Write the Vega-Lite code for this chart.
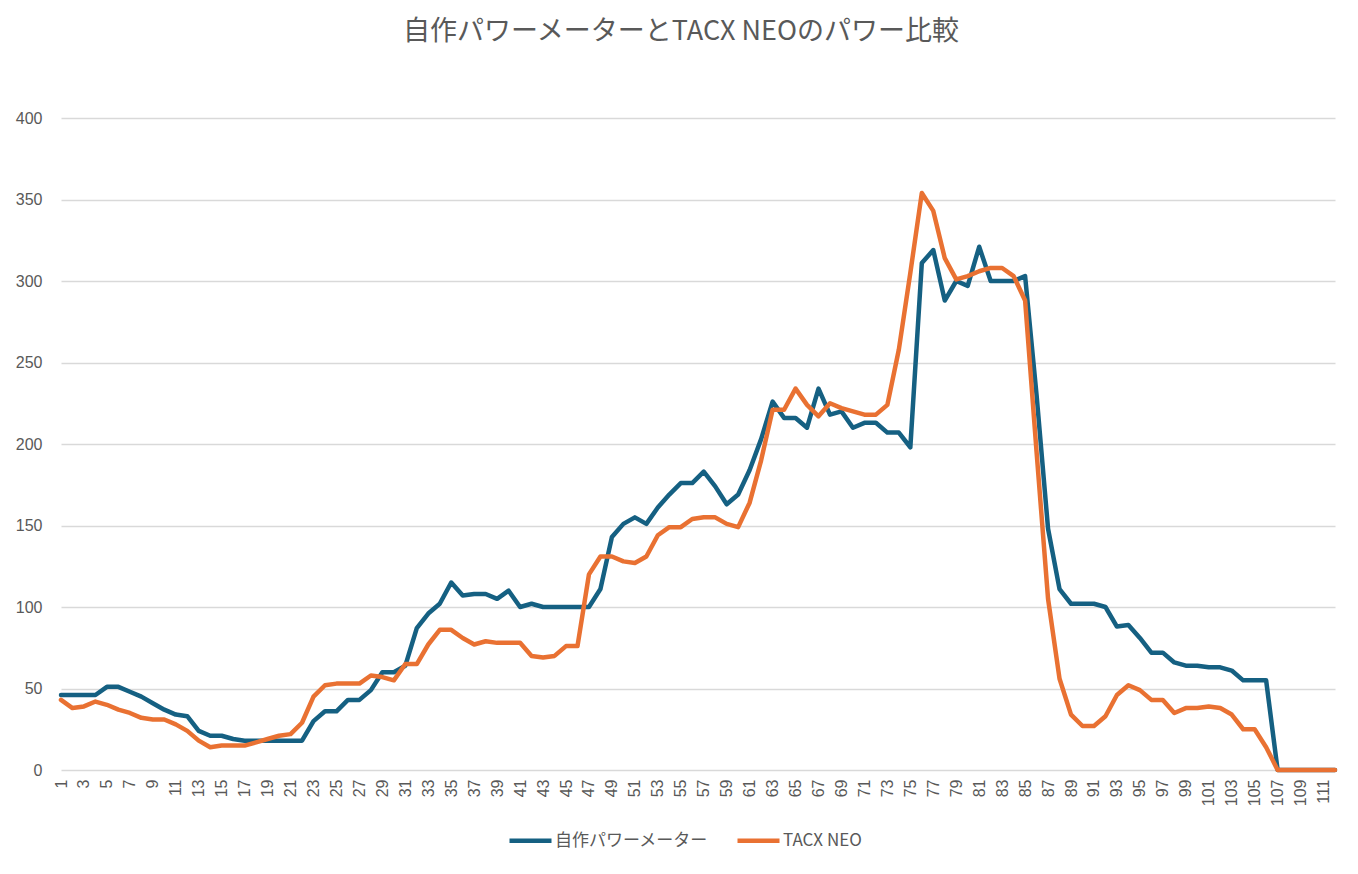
{
  "$schema": "https://vega.github.io/schema/vega-lite/v6.json",
  "width": 1274,
  "height": 652,
  "autosize": {"type": "none"},
  "padding": {"left": 61, "top": 118, "right": 23, "bottom": 104},
  "background": "white",
  "title": {
    "text": "自作パワーメーターとTACX NEOのパワー比較",
    "font": "Liberation Sans Narrow, Noto Sans CJK JP, sans-serif",
    "fontSize": 27,
    "fontWeight": "normal",
    "color": "#595959",
    "anchor": "middle",
    "offset": 64,
    "dx": -17
  },
  "data": {
    "values": [
      {"point": 1, "series": "自作パワーメーター", "power": 46},
      {"point": 2, "series": "自作パワーメーター", "power": 46},
      {"point": 3, "series": "自作パワーメーター", "power": 46},
      {"point": 4, "series": "自作パワーメーター", "power": 46},
      {"point": 5, "series": "自作パワーメーター", "power": 51},
      {"point": 6, "series": "自作パワーメーター", "power": 51},
      {"point": 7, "series": "自作パワーメーター", "power": 48},
      {"point": 8, "series": "自作パワーメーター", "power": 45},
      {"point": 9, "series": "自作パワーメーター", "power": 41},
      {"point": 10, "series": "自作パワーメーター", "power": 37},
      {"point": 11, "series": "自作パワーメーター", "power": 34},
      {"point": 12, "series": "自作パワーメーター", "power": 33},
      {"point": 13, "series": "自作パワーメーター", "power": 24},
      {"point": 14, "series": "自作パワーメーター", "power": 21},
      {"point": 15, "series": "自作パワーメーター", "power": 21},
      {"point": 16, "series": "自作パワーメーター", "power": 19},
      {"point": 17, "series": "自作パワーメーター", "power": 18},
      {"point": 18, "series": "自作パワーメーター", "power": 18},
      {"point": 19, "series": "自作パワーメーター", "power": 18},
      {"point": 20, "series": "自作パワーメーター", "power": 18},
      {"point": 21, "series": "自作パワーメーター", "power": 18},
      {"point": 22, "series": "自作パワーメーター", "power": 18},
      {"point": 23, "series": "自作パワーメーター", "power": 30},
      {"point": 24, "series": "自作パワーメーター", "power": 36},
      {"point": 25, "series": "自作パワーメーター", "power": 36},
      {"point": 26, "series": "自作パワーメーター", "power": 43},
      {"point": 27, "series": "自作パワーメーター", "power": 43},
      {"point": 28, "series": "自作パワーメーター", "power": 49},
      {"point": 29, "series": "自作パワーメーター", "power": 60},
      {"point": 30, "series": "自作パワーメーター", "power": 60},
      {"point": 31, "series": "自作パワーメーター", "power": 64},
      {"point": 32, "series": "自作パワーメーター", "power": 87},
      {"point": 33, "series": "自作パワーメーター", "power": 96},
      {"point": 34, "series": "自作パワーメーター", "power": 102},
      {"point": 35, "series": "自作パワーメーター", "power": 115},
      {"point": 36, "series": "自作パワーメーター", "power": 107},
      {"point": 37, "series": "自作パワーメーター", "power": 108},
      {"point": 38, "series": "自作パワーメーター", "power": 108},
      {"point": 39, "series": "自作パワーメーター", "power": 105},
      {"point": 40, "series": "自作パワーメーター", "power": 110},
      {"point": 41, "series": "自作パワーメーター", "power": 100},
      {"point": 42, "series": "自作パワーメーター", "power": 102},
      {"point": 43, "series": "自作パワーメーター", "power": 100},
      {"point": 44, "series": "自作パワーメーター", "power": 100},
      {"point": 45, "series": "自作パワーメーター", "power": 100},
      {"point": 46, "series": "自作パワーメーター", "power": 100},
      {"point": 47, "series": "自作パワーメーター", "power": 100},
      {"point": 48, "series": "自作パワーメーター", "power": 111},
      {"point": 49, "series": "自作パワーメーター", "power": 143},
      {"point": 50, "series": "自作パワーメーター", "power": 151},
      {"point": 51, "series": "自作パワーメーター", "power": 155},
      {"point": 52, "series": "自作パワーメーター", "power": 151},
      {"point": 53, "series": "自作パワーメーター", "power": 161},
      {"point": 54, "series": "自作パワーメーター", "power": 169},
      {"point": 55, "series": "自作パワーメーター", "power": 176},
      {"point": 56, "series": "自作パワーメーター", "power": 176},
      {"point": 57, "series": "自作パワーメーター", "power": 183},
      {"point": 58, "series": "自作パワーメーター", "power": 174},
      {"point": 59, "series": "自作パワーメーター", "power": 163},
      {"point": 60, "series": "自作パワーメーター", "power": 169},
      {"point": 61, "series": "自作パワーメーター", "power": 184},
      {"point": 62, "series": "自作パワーメーター", "power": 203},
      {"point": 63, "series": "自作パワーメーター", "power": 226},
      {"point": 64, "series": "自作パワーメーター", "power": 216},
      {"point": 65, "series": "自作パワーメーター", "power": 216},
      {"point": 66, "series": "自作パワーメーター", "power": 210},
      {"point": 67, "series": "自作パワーメーター", "power": 234},
      {"point": 68, "series": "自作パワーメーター", "power": 218},
      {"point": 69, "series": "自作パワーメーター", "power": 220},
      {"point": 70, "series": "自作パワーメーター", "power": 210},
      {"point": 71, "series": "自作パワーメーター", "power": 213},
      {"point": 72, "series": "自作パワーメーター", "power": 213},
      {"point": 73, "series": "自作パワーメーター", "power": 207},
      {"point": 74, "series": "自作パワーメーター", "power": 207},
      {"point": 75, "series": "自作パワーメーター", "power": 198},
      {"point": 76, "series": "自作パワーメーター", "power": 311},
      {"point": 77, "series": "自作パワーメーター", "power": 319},
      {"point": 78, "series": "自作パワーメーター", "power": 288},
      {"point": 79, "series": "自作パワーメーター", "power": 300},
      {"point": 80, "series": "自作パワーメーター", "power": 297},
      {"point": 81, "series": "自作パワーメーター", "power": 321},
      {"point": 82, "series": "自作パワーメーター", "power": 300},
      {"point": 83, "series": "自作パワーメーター", "power": 300},
      {"point": 84, "series": "自作パワーメーター", "power": 300},
      {"point": 85, "series": "自作パワーメーター", "power": 303},
      {"point": 86, "series": "自作パワーメーター", "power": 230},
      {"point": 87, "series": "自作パワーメーター", "power": 148},
      {"point": 88, "series": "自作パワーメーター", "power": 111},
      {"point": 89, "series": "自作パワーメーター", "power": 102},
      {"point": 90, "series": "自作パワーメーター", "power": 102},
      {"point": 91, "series": "自作パワーメーター", "power": 102},
      {"point": 92, "series": "自作パワーメーター", "power": 100},
      {"point": 93, "series": "自作パワーメーター", "power": 88},
      {"point": 94, "series": "自作パワーメーター", "power": 89},
      {"point": 95, "series": "自作パワーメーター", "power": 81},
      {"point": 96, "series": "自作パワーメーター", "power": 72},
      {"point": 97, "series": "自作パワーメーター", "power": 72},
      {"point": 98, "series": "自作パワーメーター", "power": 66},
      {"point": 99, "series": "自作パワーメーター", "power": 64},
      {"point": 100, "series": "自作パワーメーター", "power": 64},
      {"point": 101, "series": "自作パワーメーター", "power": 63},
      {"point": 102, "series": "自作パワーメーター", "power": 63},
      {"point": 103, "series": "自作パワーメーター", "power": 61},
      {"point": 104, "series": "自作パワーメーター", "power": 55},
      {"point": 105, "series": "自作パワーメーター", "power": 55},
      {"point": 106, "series": "自作パワーメーター", "power": 55},
      {"point": 107, "series": "自作パワーメーター", "power": 0},
      {"point": 108, "series": "自作パワーメーター", "power": 0},
      {"point": 109, "series": "自作パワーメーター", "power": 0},
      {"point": 110, "series": "自作パワーメーター", "power": 0},
      {"point": 111, "series": "自作パワーメーター", "power": 0},
      {"point": 112, "series": "自作パワーメーター", "power": 0},
      {"point": 1, "series": "TACX NEO", "power": 43},
      {"point": 2, "series": "TACX NEO", "power": 38},
      {"point": 3, "series": "TACX NEO", "power": 39},
      {"point": 4, "series": "TACX NEO", "power": 42},
      {"point": 5, "series": "TACX NEO", "power": 40},
      {"point": 6, "series": "TACX NEO", "power": 37},
      {"point": 7, "series": "TACX NEO", "power": 35},
      {"point": 8, "series": "TACX NEO", "power": 32},
      {"point": 9, "series": "TACX NEO", "power": 31},
      {"point": 10, "series": "TACX NEO", "power": 31},
      {"point": 11, "series": "TACX NEO", "power": 28},
      {"point": 12, "series": "TACX NEO", "power": 24},
      {"point": 13, "series": "TACX NEO", "power": 18},
      {"point": 14, "series": "TACX NEO", "power": 14},
      {"point": 15, "series": "TACX NEO", "power": 15},
      {"point": 16, "series": "TACX NEO", "power": 15},
      {"point": 17, "series": "TACX NEO", "power": 15},
      {"point": 18, "series": "TACX NEO", "power": 17},
      {"point": 19, "series": "TACX NEO", "power": 19},
      {"point": 20, "series": "TACX NEO", "power": 21},
      {"point": 21, "series": "TACX NEO", "power": 22},
      {"point": 22, "series": "TACX NEO", "power": 29},
      {"point": 23, "series": "TACX NEO", "power": 45},
      {"point": 24, "series": "TACX NEO", "power": 52},
      {"point": 25, "series": "TACX NEO", "power": 53},
      {"point": 26, "series": "TACX NEO", "power": 53},
      {"point": 27, "series": "TACX NEO", "power": 53},
      {"point": 28, "series": "TACX NEO", "power": 58},
      {"point": 29, "series": "TACX NEO", "power": 57},
      {"point": 30, "series": "TACX NEO", "power": 55},
      {"point": 31, "series": "TACX NEO", "power": 65},
      {"point": 32, "series": "TACX NEO", "power": 65},
      {"point": 33, "series": "TACX NEO", "power": 77},
      {"point": 34, "series": "TACX NEO", "power": 86},
      {"point": 35, "series": "TACX NEO", "power": 86},
      {"point": 36, "series": "TACX NEO", "power": 81},
      {"point": 37, "series": "TACX NEO", "power": 77},
      {"point": 38, "series": "TACX NEO", "power": 79},
      {"point": 39, "series": "TACX NEO", "power": 78},
      {"point": 40, "series": "TACX NEO", "power": 78},
      {"point": 41, "series": "TACX NEO", "power": 78},
      {"point": 42, "series": "TACX NEO", "power": 70},
      {"point": 43, "series": "TACX NEO", "power": 69},
      {"point": 44, "series": "TACX NEO", "power": 70},
      {"point": 45, "series": "TACX NEO", "power": 76},
      {"point": 46, "series": "TACX NEO", "power": 76},
      {"point": 47, "series": "TACX NEO", "power": 120},
      {"point": 48, "series": "TACX NEO", "power": 131},
      {"point": 49, "series": "TACX NEO", "power": 131},
      {"point": 50, "series": "TACX NEO", "power": 128},
      {"point": 51, "series": "TACX NEO", "power": 127},
      {"point": 52, "series": "TACX NEO", "power": 131},
      {"point": 53, "series": "TACX NEO", "power": 144},
      {"point": 54, "series": "TACX NEO", "power": 149},
      {"point": 55, "series": "TACX NEO", "power": 149},
      {"point": 56, "series": "TACX NEO", "power": 154},
      {"point": 57, "series": "TACX NEO", "power": 155},
      {"point": 58, "series": "TACX NEO", "power": 155},
      {"point": 59, "series": "TACX NEO", "power": 151},
      {"point": 60, "series": "TACX NEO", "power": 149},
      {"point": 61, "series": "TACX NEO", "power": 164},
      {"point": 62, "series": "TACX NEO", "power": 190},
      {"point": 63, "series": "TACX NEO", "power": 221},
      {"point": 64, "series": "TACX NEO", "power": 221},
      {"point": 65, "series": "TACX NEO", "power": 234},
      {"point": 66, "series": "TACX NEO", "power": 224},
      {"point": 67, "series": "TACX NEO", "power": 217},
      {"point": 68, "series": "TACX NEO", "power": 225},
      {"point": 69, "series": "TACX NEO", "power": 222},
      {"point": 70, "series": "TACX NEO", "power": 220},
      {"point": 71, "series": "TACX NEO", "power": 218},
      {"point": 72, "series": "TACX NEO", "power": 218},
      {"point": 73, "series": "TACX NEO", "power": 224},
      {"point": 74, "series": "TACX NEO", "power": 258},
      {"point": 75, "series": "TACX NEO", "power": 305},
      {"point": 76, "series": "TACX NEO", "power": 354},
      {"point": 77, "series": "TACX NEO", "power": 343},
      {"point": 78, "series": "TACX NEO", "power": 314},
      {"point": 79, "series": "TACX NEO", "power": 301},
      {"point": 80, "series": "TACX NEO", "power": 303},
      {"point": 81, "series": "TACX NEO", "power": 306},
      {"point": 82, "series": "TACX NEO", "power": 308},
      {"point": 83, "series": "TACX NEO", "power": 308},
      {"point": 84, "series": "TACX NEO", "power": 303},
      {"point": 85, "series": "TACX NEO", "power": 288},
      {"point": 86, "series": "TACX NEO", "power": 195},
      {"point": 87, "series": "TACX NEO", "power": 105},
      {"point": 88, "series": "TACX NEO", "power": 56},
      {"point": 89, "series": "TACX NEO", "power": 34},
      {"point": 90, "series": "TACX NEO", "power": 27},
      {"point": 91, "series": "TACX NEO", "power": 27},
      {"point": 92, "series": "TACX NEO", "power": 33},
      {"point": 93, "series": "TACX NEO", "power": 46},
      {"point": 94, "series": "TACX NEO", "power": 52},
      {"point": 95, "series": "TACX NEO", "power": 49},
      {"point": 96, "series": "TACX NEO", "power": 43},
      {"point": 97, "series": "TACX NEO", "power": 43},
      {"point": 98, "series": "TACX NEO", "power": 35},
      {"point": 99, "series": "TACX NEO", "power": 38},
      {"point": 100, "series": "TACX NEO", "power": 38},
      {"point": 101, "series": "TACX NEO", "power": 39},
      {"point": 102, "series": "TACX NEO", "power": 38},
      {"point": 103, "series": "TACX NEO", "power": 34},
      {"point": 104, "series": "TACX NEO", "power": 25},
      {"point": 105, "series": "TACX NEO", "power": 25},
      {"point": 106, "series": "TACX NEO", "power": 14},
      {"point": 107, "series": "TACX NEO", "power": 0},
      {"point": 108, "series": "TACX NEO", "power": 0},
      {"point": 109, "series": "TACX NEO", "power": 0},
      {"point": 110, "series": "TACX NEO", "power": 0},
      {"point": 111, "series": "TACX NEO", "power": 0},
      {"point": 112, "series": "TACX NEO", "power": 0}
    ]
  },
  "mark": {"type": "line", "strokeWidth": 4.5, "strokeJoin": "round", "strokeCap": "round"},
  "encoding": {
    "x": {
      "field": "point",
      "type": "ordinal",
      "scale": {"type": "point", "padding": 0},
      "axis": {
        "title": null,
        "labelAngle": -90,
        "labelExpr": "datum.value % 2 == 1 ? datum.label : ''",
        "labelOverlap": false,
        "labelFont": "Liberation Sans",
        "labelFontSize": 16,
        "labelColor": "#595959",
        "labelPadding": 9,
        "ticks": false,
        "domain": false,
        "grid": false
      }
    },
    "y": {
      "field": "power",
      "type": "quantitative",
      "scale": {"domain": [0, 400]},
      "axis": {
        "title": null,
        "values": [0, 50, 100, 150, 200, 250, 300, 350, 400],
        "labelFont": "Liberation Sans",
        "labelFontSize": 16,
        "labelColor": "#595959",
        "labelPadding": 19,
        "ticks": false,
        "domain": false,
        "gridColor": "#d9d9d9",
        "gridWidth": 1.5
      }
    },
    "color": {
      "field": "series",
      "type": "nominal",
      "scale": {"domain": ["自作パワーメーター", "TACX NEO"], "range": ["#156082", "#E97132"]},
      "legend": {
        "title": null,
        "orient": "none",
        "direction": "horizontal",
        "legendX": 446,
        "legendY": 699,
        "symbolType": "stroke",
        "symbolSize": 1764,
        "symbolStrokeWidth": 4.5,
        "labelOffset": 1,
        "columnPadding": 20,
        "labelFont": "Liberation Sans Narrow, Noto Sans CJK JP, sans-serif",
        "labelFontSize": 17,
        "labelColor": "#595959"
      }
    }
  },
  "config": {
    "view": {"stroke": null}
  }
}
